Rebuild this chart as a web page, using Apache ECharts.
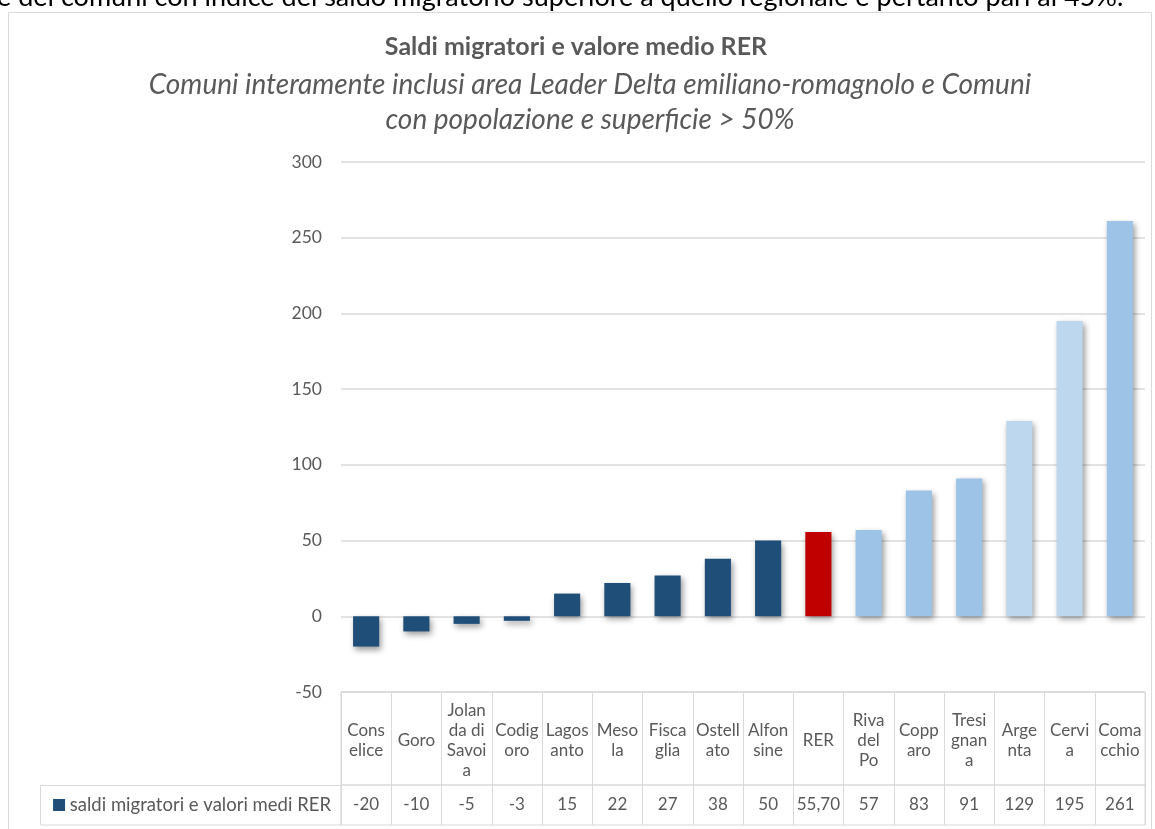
<!DOCTYPE html>
<html>
<head>
<meta charset="utf-8">
<script src="https://cdn.jsdelivr.net/npm/echarts@6/dist/echarts.min.js"></script>
<style>
  html, body { margin: 0; padding: 0; background: #fff; }
  #chart { width: 1155px; height: 829px; }
</style>
</head>
<body>
<div id="chart"></div>
<script>
// comuni (ordinati per saldo) e valore medio regionale
const comuni = ['Conselice', 'Goro', 'Jolanda di Savoia', 'Codigoro', 'Lagosanto', 'Mesola', 'Fiscaglia',
  'Ostellato', 'Alfonsine', 'RER', 'Riva del Po', 'Copparo', 'Tresignana', 'Argenta', 'Cervia', 'Comacchio'];
// etichette come vanno a capo nella tabella dati
const etichette = ['Cons\nelice', 'Goro', 'Jolan\nda di\nSavoi\na', 'Codig\noro', 'Lagos\nanto', 'Meso\nla',
  'Fisca\nglia', 'Ostell\nato', 'Alfon\nsine', 'RER', 'Riva\ndel\nPo', 'Copp\naro', 'Tresi\ngnan\na',
  'Arge\nnta', 'Cervi\na', 'Coma\ncchio'];
const saldi = [-20, -10, -5, -3, 15, 22, 27, 38, 50, 55.7, 57, 83, 91, 129, 195, 261];
const yTicks = [-50, 0, 50, 100, 150, 200, 250, 300];
const serieNome = 'saldi migratori e valori medi RER';

const BLU = '#1F4E79', ROSSO = '#C00000', AZZ = '#9DC3E6', CHIARO = '#BDD7EE';
const coloriBarre = [BLU, BLU, BLU, BLU, BLU, BLU, BLU, BLU, BLU, ROSSO, AZZ, AZZ, AZZ, CHIARO, CHIARO, AZZ];

const FONT = 'Lato';
const GRIGIO = '#595959';
const LINEA = '#d9d9d9';

const fmt = v => Number.isInteger(v) ? String(v) : v.toFixed(2).replace('.', ',');

const chart = echarts.init(document.getElementById('chart'));

const option = {
  animation: false,
  textStyle: {fontFamily: FONT},
  grid: [
    {left: 341, right: 10, top: 162, height: 530},
    {left: 341, right: 10, top: 692, height: 93, show: true, borderColor: LINEA, borderWidth: 1},
    {left: 341, right: 10, top: 785, height: 40, show: true, borderColor: LINEA, borderWidth: 1}
  ],
  xAxis: [
    {
      type: 'category', gridIndex: 0, data: comuni,
      axisLine: {show: false}, axisTick: {show: false}, axisLabel: {show: false}
    },
    {
      type: 'category', gridIndex: 1, data: etichette, position: 'bottom',
      axisLine: {show: false}, axisTick: {show: false},
      splitLine: {show: true, lineStyle: {color: LINEA}},
      axisLabel: {
        inside: true, margin: 44, verticalAlign: 'middle', interval: 0,
        color: GRIGIO, fontSize: 17, lineHeight: 20, fontFamily: FONT
      }
    },
    {
      type: 'category', gridIndex: 2, data: comuni, position: 'bottom',
      axisLine: {show: false}, axisTick: {show: false},
      splitLine: {show: true, lineStyle: {color: LINEA}},
      axisLabel: {
        inside: true, margin: 20, verticalAlign: 'middle', interval: 0,
        color: GRIGIO, fontSize: 17, fontFamily: FONT,
        formatter: (v, i) => fmt(saldi[i])
      }
    }
  ],
  yAxis: [
    {
      type: 'value', gridIndex: 0, min: yTicks[0], max: yTicks[yTicks.length - 1], interval: 50,
      axisLine: {show: false}, axisTick: {show: false},
      axisLabel: {color: GRIGIO, fontSize: 17.5, margin: 19, fontFamily: FONT},
      splitLine: {lineStyle: {color: LINEA, width: 1.5}}
    },
    {type: 'value', gridIndex: 1, show: false},
    {
      type: 'category', gridIndex: 2, data: [serieNome],
      axisLine: {show: false}, axisTick: {show: false},
      axisLabel: {
        margin: 10, color: GRIGIO, fontSize: 18.5, fontFamily: FONT,
        formatter: v => '{sq|} ' + v,
        rich: {sq: {width: 12, height: 12, backgroundColor: BLU}}
      }
    }
  ],
  series: [{
    name: serieNome,
    type: 'bar',
    xAxisIndex: 0, yAxisIndex: 0,
    data: saldi.map((v, i) => ({value: v, itemStyle: {color: coloriBarre[i]}})),
    barCategoryGap: '48%',
    itemStyle: {
      shadowColor: 'rgba(0,0,0,0.4)', shadowBlur: 6, shadowOffsetX: 2, shadowOffsetY: 3
    }
  }],
  graphic: [
    // cornice del grafico
    {type: 'rect', shape: {x: 8.5, y: 12.5, width: 1143, height: 830}, style: {fill: 'none', stroke: LINEA, lineWidth: 1}, silent: true},
    // cella con il nome della serie
    {type: 'rect', shape: {x: 40.5, y: 785.5, width: 300.5, height: 39.5}, style: {fill: 'none', stroke: LINEA, lineWidth: 1}, silent: true},
    // riga del testo sopra il grafico, tagliata
    {type: 'text', x: -3, y: 11, style: {
      text: 'e dei comuni con indice del saldo migratorio superiore a quello regionale e pertanto pari al 45%.',
      verticalAlign: 'bottom', fill: '#000', font: '27px ' + FONT}},
    {type: 'text', x: 576, y: 47, style: {
      text: 'Saldi migratori e valore medio RER', align: 'center', verticalAlign: 'middle',
      fill: GRIGIO, font: 'bold 25px ' + FONT}},
    {type: 'text', x: 590, y: 85, style: {
      text: 'Comuni interamente inclusi area Leader Delta emiliano-romagnolo e Comuni', align: 'center', verticalAlign: 'middle',
      fill: GRIGIO, font: 'italic 28px ' + FONT}},
    {type: 'text', x: 590, y: 120, style: {
      text: 'con popolazione e superficie > 50%', align: 'center', verticalAlign: 'middle',
      fill: GRIGIO, font: 'italic 28px ' + FONT}}
  ]
};

chart.setOption(option);
</script>
</body>
</html>
